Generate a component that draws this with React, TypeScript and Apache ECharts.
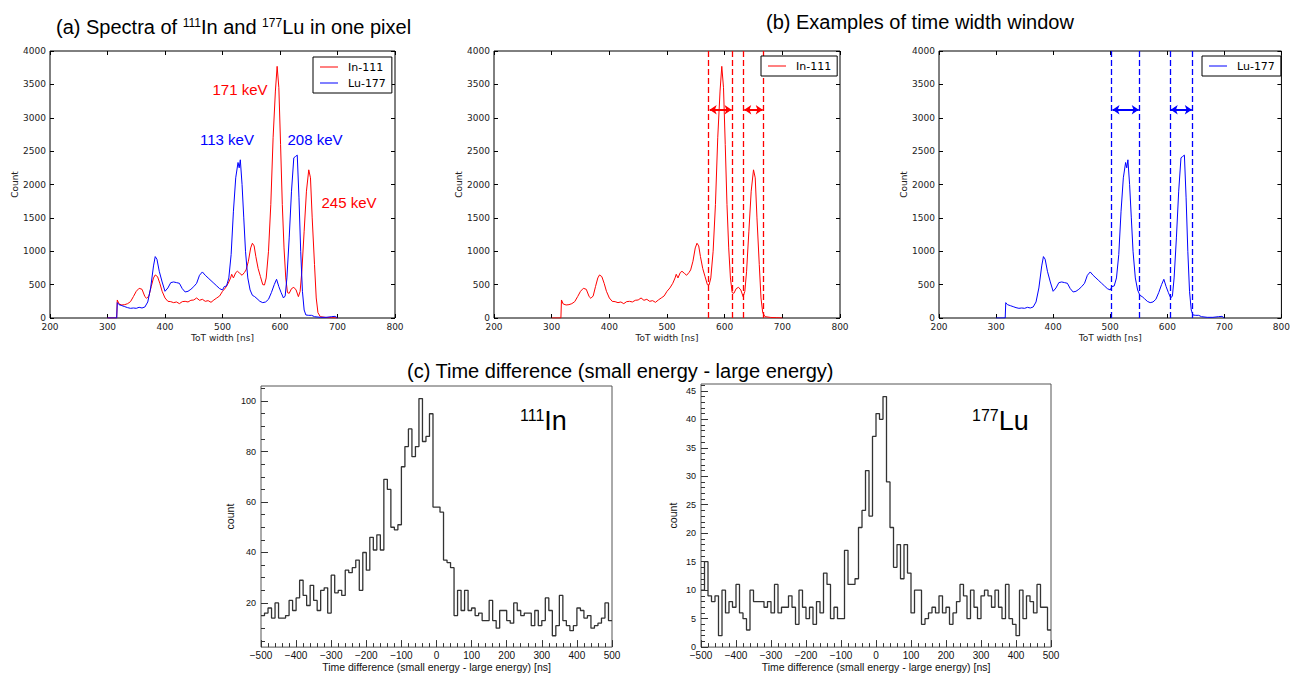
import React, { useEffect, useRef } from 'react';
import * as echarts from 'echarts';

// ---------- (a)/(b)/(c) ToT spectra ----------
const inTot = [300, 316, 317, 320, 325, 330, 335, 340, 345, 350, 355, 360, 365, 368, 372, 376, 380, 383, 387, 391, 395, 400, 405, 410, 415, 420, 425, 430, 435, 440, 445, 450, 455, 460, 465, 470, 475, 480, 485, 490, 495, 500, 505, 510, 514, 516, 519, 523, 526, 530, 534, 538, 541, 545, 549, 552, 555, 558, 562, 566, 570, 573, 576, 580, 584, 588, 592, 595, 598, 601, 604, 607, 610, 613, 616, 620, 624, 628, 632, 635, 638, 642, 646, 650, 653, 656, 660, 663, 666, 670, 680, 690, 700];
const inCount = [0, 0, 270, 210, 195, 200, 215, 245, 320, 400, 445, 430, 320, 295, 330, 470, 600, 645, 620, 520, 400, 300, 250, 245, 230, 240, 215, 245, 250, 240, 265, 270, 300, 265, 280, 250, 260, 235, 270, 300, 330, 400, 450, 520, 600, 655, 600, 680, 700, 670, 640, 680, 720, 850, 1050, 1120, 1080, 920, 740, 620, 500, 495, 600, 1000, 1700, 2700, 3400, 3770, 3450, 2600, 1700, 1050, 600, 380, 370, 440, 460, 420, 320, 400, 700, 1300, 1900, 2220, 2100, 1500, 800, 300, 80, 20, 8, 5, 0];

const luTot = [300, 316, 317, 320, 325, 330, 335, 340, 345, 350, 355, 360, 365, 370, 375, 380, 383, 386, 390, 395, 400, 405, 410, 415, 420, 425, 430, 435, 440, 445, 450, 455, 460, 465, 470, 475, 480, 485, 490, 495, 500, 503, 507, 511, 515, 519, 523, 527, 529, 531, 534, 537, 540, 544, 548, 552, 556, 560, 565, 570, 575, 580, 585, 590, 594, 598, 602, 606, 609, 612, 616, 620, 624, 627, 630, 633, 636, 639, 642, 645, 650, 655, 660, 670, 680, 690, 696, 700];
const luCount = [0, 0, 230, 200, 185, 170, 155, 145, 150, 145, 160, 150, 165, 240, 450, 780, 920, 880, 700, 540, 400, 450, 530, 540, 530, 520, 440, 390, 400, 430, 470, 520, 640, 690, 640, 600, 560, 520, 480, 440, 420, 470, 480, 600, 950, 1600, 2100, 2330, 2250, 2370, 2000, 1500, 1000, 600, 420, 340, 320, 290, 250, 230, 240, 280, 380, 500, 580, 470, 380, 300, 330, 600, 1200, 1900, 2400, 2420, 2440, 1800, 1000, 400, 120, 45, 40, 40, 20, 10, 10, 20, 25, 0];

const inWindowEdges = [571, 613, 633, 667];
const luWindowEdges = [502, 551, 605, 644];
const inArrows = [[574, 612], [634, 666]];
const luArrows = [[504, 550], [606, 643]];
const arrowLevel = 3120;

// ---------- (c) time-difference histograms (10 ns bins from -500) ----------
const tdBinStart = -500;
const tdBinWidth = 10;
const inTimeDiff = [
  15, 16, 18, 14, 20, 14, 14, 15, 21, 17, 22, 29, 23, 19, 27, 21, 17, 25, 26, 16,
  31, 24, 25, 23, 33, 32, 34, 37, 25, 40, 33, 46, 41, 47, 41, 69, 65, 50, 49, 51,
  74, 82, 89, 78, 82, 101, 84, 86, 95, 58, 58, 56, 37, 36, 34, 15, 25, 17, 25, 17,
  18, 15, 16, 13, 13, 21, 13, 10, 17, 17, 13, 12, 20, 17, 15, 16, 16, 11, 17, 11,
  13, 22, 17, 7, 11, 23, 13, 11, 9, 11, 18, 17, 14, 15, 10, 11, 12, 14, 20, 13,
];
const luTimeDiff = [
  10, 15, 9, 8, 9, 2, 10, 6, 8, 7, 11, 6, 5, 3, 10, 8, 8, 8, 7, 8,
  6, 11, 6, 7, 7, 9, 7, 4, 10, 7, 5, 7, 4, 8, 6, 13, 11, 5, 7, 5,
  5, 17, 11, 11, 12, 21, 24, 31, 23, 37, 41, 40, 44, 29, 21, 14, 18, 12, 18, 13,
  6, 10, 10, 4, 5, 6, 7, 6, 9, 6, 7, 4, 6, 8, 11, 9, 5, 10, 7, 5,
  9, 10, 9, 7, 10, 7, 5, 11, 5, 4, 2, 10, 5, 9, 8, 6, 11, 7, 7, 3,
];
const inCountMajor = [20, 40, 60, 80, 100];
const inCountMinor = [5, 10, 15, 20, 25, 30, 35, 40, 45, 50, 55, 60, 65, 70, 75, 80, 85, 90, 95, 100, 105];
const luCountMajor = [0, 5, 10, 15, 20, 25, 30, 35, 40, 45];
const luCountMinor = [1, 2, 3, 4, 5, 6, 7, 8, 9, 10, 11, 12, 13, 14, 15, 16, 17, 18, 19, 20, 21, 22, 23, 24, 25, 26, 27, 28, 29, 30, 31, 32, 33, 34, 35, 36, 37, 38, 39, 40, 41, 42, 43, 44, 45, 46];

const MPL = 'DejaVu Sans';
const ROOTF = 'Liberation Sans';
const RED = '#ff0000';
const BLUE = '#0000ff';

function pairs(xs: number[], ys: number[]) {
  return xs.map((x, i) => [x, ys[i]]);
}
function histPoints(bins: number[]) {
  const pts = bins.map((v, i) => [tdBinStart + i * tdBinWidth, v]);
  pts.push([tdBinStart + bins.length * tdBinWidth, bins[bins.length - 1]]);
  return pts;
}
const plain = (v: number) => String(v);

function mplX(g: number, top: boolean) {
  return {
    type: 'value', gridIndex: g, min: 200, max: 800, interval: 100,
    position: top ? 'top' : 'bottom',
    axisLine: { show: false, onZero: false },
    axisTick: { show: true, inside: true, length: 4, lineStyle: { color: '#000', width: 1 } },
    splitLine: { show: false },
    axisLabel: { show: !top, fontFamily: MPL, fontSize: 9, color: '#222', margin: 4, formatter: plain },
    name: top ? '' : 'ToT width [ns]', nameLocation: 'middle', nameGap: 15,
    nameTextStyle: { fontFamily: MPL, fontSize: 9, color: '#222' },
  };
}
function mplY(g: number, right: boolean) {
  return {
    type: 'value', gridIndex: g, min: 0, max: 4000, interval: 500,
    position: right ? 'right' : 'left',
    axisLine: { show: false, onZero: false },
    axisTick: { show: true, inside: true, length: 4, lineStyle: { color: '#000', width: 1 } },
    splitLine: { show: false },
    axisLabel: { show: !right, fontFamily: MPL, fontSize: 9, color: '#222', margin: 4, formatter: plain },
    name: right ? '' : 'Count', nameLocation: 'middle', nameGap: 28,
    nameTextStyle: { fontFamily: MPL, fontSize: 9, color: '#222' },
  };
}
function rootX(g: number) {
  return {
    type: 'value', gridIndex: g, min: -500, max: 500, interval: 100, position: 'bottom',
    axisLine: { show: false, onZero: false },
    axisTick: { show: true, inside: true, length: 7, lineStyle: { color: '#333' } },
    minorTick: { show: true, splitNumber: 5, length: 4, lineStyle: { color: '#333' } },
    splitLine: { show: false },
    axisLabel: {
      fontFamily: ROOTF, fontSize: 10, color: '#111', margin: 3,
      formatter: (v: number) => (v < 0 ? '\u2212' + Math.abs(v) : String(v)),
    },
    name: 'Time difference (small energy - large energy) [ns]', nameLocation: 'middle', nameGap: 12,
    nameTextStyle: { fontFamily: ROOTF, fontSize: 10.5, color: '#111' },
  };
}
function rootY(g: number, min: number, max: number, major: number[], minor: number[] | null, gap: number) {
  const isMinor = minor !== null;
  return {
    type: 'value', gridIndex: g, min, max, position: 'left',
    axisLine: { show: false, onZero: false },
    axisTick: { show: true, inside: true, length: isMinor ? 4 : 7, customValues: isMinor ? minor : major, lineStyle: { color: '#333' } },
    splitLine: { show: false },
    axisLabel: { show: !isMinor, customValues: major, fontFamily: ROOTF, fontSize: 9, color: '#111', margin: 5, formatter: plain },
    name: isMinor ? '' : 'count', nameLocation: 'middle', nameGap: gap,
    nameTextStyle: { fontFamily: ROOTF, fontSize: 10.5, color: '#111' },
  };
}

function legendBox(left: number, top: number, names: string[]) {
  return {
    data: names, left, top, orient: 'vertical', selectedMode: false,
    icon: 'rect', itemWidth: 18, itemHeight: 1, itemGap: 2,
    padding: [3, 6, 3, 7], borderColor: '#000', borderWidth: 1, borderRadius: 0,
    backgroundColor: '#fff',
    textStyle: { fontFamily: MPL, fontSize: 11, color: '#000', lineHeight: 14, padding: [0, 0, 0, 5] },
  };
}

function buildOption(): any {
  const titleRich = {
    t: { fontSize: 20, fontFamily: ROOTF, fill: '#000' },
    s: { fontSize: 12, fontFamily: ROOTF, fill: '#000', verticalAlign: 'top' },
  };
  const bigRich = (size: number) => ({
    t: { fontSize: size, fontFamily: ROOTF, fill: '#000' },
    s: { fontSize: 16, fontFamily: ROOTF, fill: '#000', verticalAlign: 'top' },
  });
  const peak = (text: string, x: number, y: number, color: string) => ({
    type: 'text', x, y, silent: true,
    style: { text, fill: color, fontSize: 15, fontFamily: ROOTF, align: 'center', verticalAlign: 'middle' },
  });
  return {
    animation: false,
    backgroundColor: '#fff',
    grid: [
      { left: 50, top: 51, width: 345, height: 267, borderColor: '#000' },
      { left: 494, top: 51, width: 346, height: 267, borderColor: '#000' },
      { left: 939, top: 51, width: 345, height: 267, borderColor: '#000' },
      { left: 261, top: 386, width: 351, height: 264, borderColor: '#555' },
      { left: 701, top: 384, width: 350, height: 266, borderColor: '#555' },
    ].map((g) => ({ ...g, show: true, borderWidth: 1, backgroundColor: 'transparent' })),
    xAxis: [mplX(0, false), mplX(0, true), mplX(1, false), mplX(1, true), mplX(2, false), mplX(2, true), rootX(3), rootX(4)],
    yAxis: [
      mplY(0, false), mplY(0, true), mplY(1, false), mplY(1, true), mplY(2, false), mplY(2, true),
      rootY(3, 2.5, 106, inCountMajor, null, 26), rootY(3, 2.5, 106, inCountMajor, inCountMinor, 26),
      rootY(4, 0, 46.2, luCountMajor, null, 23), rootY(4, 0, 46.2, luCountMajor, luCountMinor, 23),
    ],
    legend: [
      legendBox(313, 57, ['In-111', 'Lu-177']),
      legendBox(761, 56, ['In-111']),
      legendBox(1202, 56, ['Lu-177']),
    ],
    series: [
      { type: 'line', name: 'In-111', xAxisIndex: 0, yAxisIndex: 0, data: pairs(inTot, inCount), symbol: 'none', silent: true, lineStyle: { color: RED, width: 1 }, itemStyle: { color: RED } },
      { type: 'line', name: 'Lu-177', xAxisIndex: 0, yAxisIndex: 0, data: pairs(luTot, luCount), symbol: 'none', silent: true, lineStyle: { color: BLUE, width: 1 }, itemStyle: { color: BLUE } },
      { type: 'line', name: 'In-111', xAxisIndex: 2, yAxisIndex: 2, data: pairs(inTot, inCount), symbol: 'none', silent: true, lineStyle: { color: RED, width: 1 }, itemStyle: { color: RED } },
      { type: 'lines', coordinateSystem: 'cartesian2d', xAxisIndex: 2, yAxisIndex: 2, silent: true,
        data: inWindowEdges.map((x) => ({ coords: [[x, 0], [x, 4000]] })),
        lineStyle: { color: RED, width: 1.3, type: [6, 3], opacity: 1 } },
      { type: 'lines', coordinateSystem: 'cartesian2d', xAxisIndex: 2, yAxisIndex: 2, silent: true,
        data: inArrows.map(([a, b]) => ({ coords: [[a, arrowLevel], [b, arrowLevel]] })),
        symbol: ['arrow', 'arrow'], symbolSize: 7,
        lineStyle: { color: RED, width: 2, opacity: 1 }, itemStyle: { color: RED } },
      { type: 'line', name: 'Lu-177', xAxisIndex: 4, yAxisIndex: 4, data: pairs(luTot, luCount), symbol: 'none', silent: true, lineStyle: { color: BLUE, width: 1 }, itemStyle: { color: BLUE } },
      { type: 'lines', coordinateSystem: 'cartesian2d', xAxisIndex: 4, yAxisIndex: 4, silent: true,
        data: luWindowEdges.map((x) => ({ coords: [[x, 0], [x, 4000]] })),
        lineStyle: { color: BLUE, width: 1.3, type: [6, 3], opacity: 1 } },
      { type: 'lines', coordinateSystem: 'cartesian2d', xAxisIndex: 4, yAxisIndex: 4, silent: true,
        data: luArrows.map(([a, b]) => ({ coords: [[a, arrowLevel], [b, arrowLevel]] })),
        symbol: ['arrow', 'arrow'], symbolSize: 7,
        lineStyle: { color: BLUE, width: 2, opacity: 1 }, itemStyle: { color: BLUE } },
      { type: 'line', name: 'In-111 time difference', xAxisIndex: 6, yAxisIndex: 6, step: 'end', data: histPoints(inTimeDiff), symbol: 'none', silent: true, lineStyle: { color: '#333', width: 1.3 } },
      { type: 'line', name: 'Lu-177 time difference', xAxisIndex: 7, yAxisIndex: 8, step: 'end', data: histPoints(luTimeDiff), symbol: 'none', silent: true, lineStyle: { color: '#333', width: 1.3 } },
    ],
    graphic: [
      { type: 'text', x: 56, y: 27, silent: true, style: { text: '{t|(a) Spectra of }{s|111}{t|In and }{s|177}{t|Lu in one pixel}', rich: titleRich, verticalAlign: 'middle', align: 'left' } },
      { type: 'text', x: 766, y: 22, silent: true, style: { text: '(b) Examples of time width window', fontSize: 20, fontFamily: ROOTF, fill: '#000', verticalAlign: 'middle', align: 'left' } },
      { type: 'text', x: 407, y: 371, silent: true, style: { text: '(c) Time difference (small energy - large energy)', fontSize: 20, fontFamily: ROOTF, fill: '#000', verticalAlign: 'middle', align: 'left' } },
      peak('171 keV', 240, 89, RED),
      peak('113 keV', 227, 139, BLUE),
      peak('208 keV', 315, 139, BLUE),
      peak('245 keV', 349, 202, RED),
      { type: 'text', x: 520, y: 421, silent: true, style: { text: '{s|111}{t|In}', rich: bigRich(27), verticalAlign: 'middle', align: 'left' } },
      { type: 'text', x: 972, y: 421, silent: true, style: { text: '{s|177}{t|Lu}', rich: bigRich(27), verticalAlign: 'middle', align: 'left' } },
    ],
  };
}

export default function App() {
  const ref = useRef<HTMLDivElement>(null);
  useEffect(() => {
    document.body.style.margin = '0';
    const chart = echarts.init(ref.current as HTMLDivElement, null, { renderer: 'svg' });
    chart.setOption(buildOption());
    return () => chart.dispose();
  }, []);
  return <div ref={ref} style={{ width: 1293, height: 673 }} />;
}
